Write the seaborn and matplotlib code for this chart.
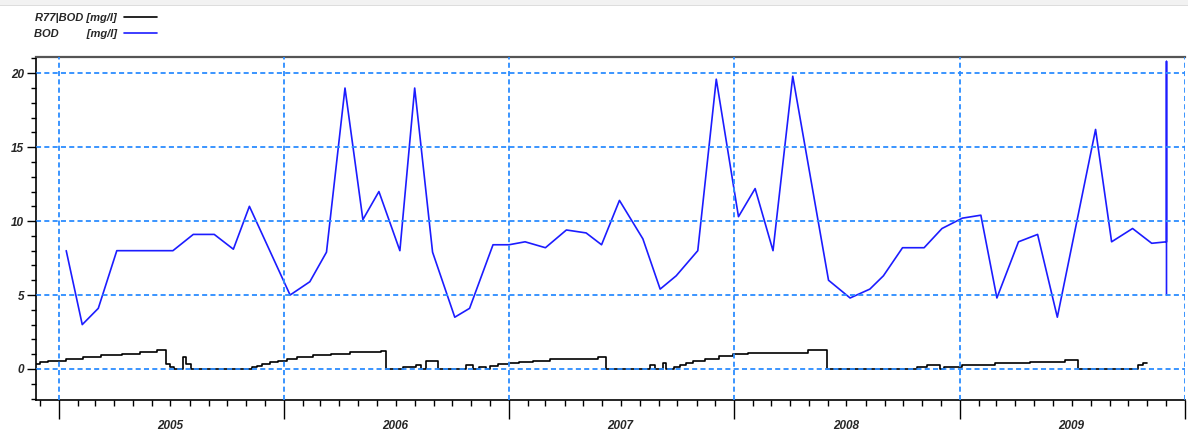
import matplotlib
matplotlib.use("Agg")
import matplotlib.pyplot as plt
import matplotlib.dates as mdates
from matplotlib.ticker import MultipleLocator, FuncFormatter
from matplotlib.patches import Rectangle
import pandas as pd
import seaborn as sns

# --- data -------------------------------------------------------------
bod_dates = [
    "2005-01-13", "2005-02-08", "2005-03-06", "2005-04-05", "2005-07-05",
    "2005-08-07", "2005-09-10", "2005-10-11", "2005-11-06",
    "2006-01-11", "2006-02-12", "2006-03-11", "2006-04-10", "2006-05-09",
    "2006-06-04", "2006-07-08", "2006-08-01", "2006-08-30", "2006-10-05",
    "2006-10-29", "2006-12-06",
    "2007-01-01", "2007-01-27", "2007-03-01", "2007-04-04", "2007-05-06",
    "2007-05-31", "2007-06-29", "2007-08-06", "2007-09-03", "2007-09-29",
    "2007-11-03", "2007-12-03",
    "2008-01-08", "2008-02-04", "2008-03-04", "2008-04-05", "2008-06-02",
    "2008-07-07", "2008-08-08", "2008-08-30", "2008-09-30", "2008-11-04",
    "2008-12-03",
    "2009-01-05", "2009-02-04", "2009-03-02", "2009-04-06", "2009-05-07",
    "2009-06-08", "2009-08-09", "2009-09-04", "2009-10-08", "2009-11-08",
    "2009-12-02", "2009-12-02", "2009-12-02",
]
bod_values = [
    8.0, 3.0, 4.1, 8.0, 8.0, 9.1, 9.1, 8.1, 11.0,
    5.0, 5.9, 7.9, 19.0, 10.1, 12.0, 8.0, 19.0, 7.9, 3.5, 4.1, 8.4,
    8.4, 8.6, 8.2, 9.4, 9.2, 8.4, 11.4, 8.8, 5.4, 6.3, 8.0, 19.6,
    10.3, 12.2, 8.0, 19.8, 6.0, 4.8, 5.4, 6.3, 8.2, 8.2, 9.5,
    10.2, 10.4, 4.8, 8.6, 9.1, 3.5, 16.2, 8.6, 9.5, 8.5, 8.6, 20.8, 5.0,
]

r77_dates = [
    "2004-11-25", "2004-12-01", "2004-12-15",
    "2005-01-12", "2005-02-10", "2005-03-11", "2005-04-13", "2005-05-13",
    "2005-06-09", "2005-06-24", "2005-06-30", "2005-07-06", "2005-07-22",
    "2005-07-27", "2005-08-04", "2005-11-10", "2005-11-18", "2005-11-26",
    "2005-12-09", "2005-12-23",
    "2006-01-06", "2006-01-22", "2006-02-17", "2006-03-19", "2006-04-18",
    "2006-06-08", "2006-06-15", "2006-07-13", "2006-07-23", "2006-08-03",
    "2006-08-12", "2006-08-20", "2006-09-08", "2006-10-24", "2006-11-04",
    "2006-11-14", "2006-11-25", "2006-12-01", "2006-12-14",
    "2007-01-01", "2007-01-17", "2007-02-09", "2007-03-08", "2007-05-26",
    "2007-06-08", "2007-08-17", "2007-08-25", "2007-09-08", "2007-09-13",
    "2007-09-26", "2007-10-05", "2007-10-15", "2007-10-26", "2007-11-14",
    "2007-12-08", "2007-12-30",
    "2008-01-24", "2008-04-30", "2008-05-30", "2008-10-24", "2008-11-09",
    "2008-11-30", "2008-12-07",
    "2009-01-05", "2009-02-27", "2009-04-25", "2009-06-21", "2009-07-11",
    "2009-10-17", "2009-10-25", "2009-10-31",
]
r77_values = [
    0.34, 0.46, 0.57,
    0.69, 0.80, 0.92, 1.03, 1.15, 1.26, 0.34, 0.11, 0.0, 0.80, 0.34, 0.0,
    0.11, 0.23, 0.34, 0.46, 0.57,
    0.69, 0.80, 0.92, 1.03, 1.15, 1.21, 0.0, 0.11, 0.16, 0.28, 0.0, 0.57,
    0.0, 0.28, 0.0, 0.11, 0.0, 0.23, 0.34,
    0.41, 0.46, 0.57, 0.69, 0.80, 0.0, 0.28, 0.0, 0.40, 0.0, 0.11, 0.28,
    0.40, 0.57, 0.69, 0.85, 0.99,
    1.10, 1.26, 0.0, 0.11, 0.28, 0.0, 0.16,
    0.28, 0.39, 0.50, 0.62, 0.0, 0.28, 0.39, 0.39,
]

year_labels = ["2005", "2006", "2007", "2008", "2009"]
legend_labels = ["R77|BOD [mg/l]", "BOD         [mg/l]"]

bod = pd.DataFrame({"date": pd.to_datetime(bod_dates), "value": bod_values})
r77 = pd.DataFrame({"date": pd.to_datetime(r77_dates), "value": r77_values})

# --- style ------------------------------------------------------------
sns.set_theme(style="white")
plt.rcParams["font.family"] = ["Liberation Sans", "DejaVu Sans"]
TXT = "#262626"
GRID = "#2b8cff"

fig = plt.figure(figsize=(11.88, 4.33), dpi=100)
fig.patch.set_facecolor("white")
ax = fig.add_axes([36 / 1188, 33 / 433, 1149 / 1188, 343 / 433])

sns.lineplot(data=r77, x="date", y="value", ax=ax, color="black",
             linewidth=1.2, drawstyle="steps-post",
             estimator=None, sort=False, errorbar=None)
sns.lineplot(data=bod, x="date", y="value", ax=ax, color="#1c1cff",
             linewidth=1.2, estimator=None, sort=False, errorbar=None)

ax.set_xlim(pd.Timestamp("2004-11-25"), pd.Timestamp("2010-01-01"))
ax.set_ylim(-2.1, 21.1)
ax.set_xlabel("")
ax.set_ylabel("")

# y axis
ax.yaxis.set_major_locator(MultipleLocator(5))
ax.yaxis.set_minor_locator(MultipleLocator(1))
ax.tick_params(axis="y", which="major", length=6.5, width=1.0, color="black",
               left=True, pad=2, labelsize=8.5, labelcolor=TXT)
ax.tick_params(axis="y", which="minor", length=3.8, width=1.0, color="black",
               left=True)

# x axis: years as long ticks, months as short ticks, year names mid-year
ax.xaxis.set_major_locator(mdates.YearLocator())
ax.xaxis.set_major_formatter(FuncFormatter(lambda v, p: ""))
ax.xaxis.set_minor_locator(mdates.MonthLocator())


def mid_year_label(v, pos):
    d = mdates.num2date(v)
    name = str(d.year)
    return name if (d.month == 7 and name in year_labels) else ""


ax.xaxis.set_minor_formatter(FuncFormatter(mid_year_label))
ax.tick_params(axis="x", which="major", length=14, width=1.0, color="black",
               bottom=True)
ax.tick_params(axis="x", which="minor", length=4.3, width=1.0, color="black",
               bottom=True, pad=10, labelsize=8.5, labelcolor=TXT)

for lab in ax.get_xticklabels(minor=True) + ax.get_yticklabels():
    lab.set_fontstyle("italic")
    lab.set_fontweight("bold")

# grid on top of the data lines
ax.set_axisbelow(False)
ax.grid(True, which="major", axis="both", color=GRID, linewidth=1.3,
        linestyle=(0, (2.8, 1.8)))
ax.grid(False, which="minor")

# frame
for side in ("left", "bottom"):
    ax.spines[side].set_color("black")
    ax.spines[side].set_linewidth(1.2)
ax.spines["top"].set_color("#555555")
ax.spines["top"].set_linewidth(1.6)
ax.spines["right"].set_visible(False)

# legend above the plot, handles after the text
handles = ax.get_lines()[:2]
leg = fig.legend(handles, legend_labels, loc="upper left",
                 bbox_to_anchor=(34 / 1188, 1 - 13 / 433), frameon=False,
                 markerfirst=False, handlelength=3.0, handletextpad=0.6,
                 labelspacing=0.55, borderpad=0, borderaxespad=0,
                 prop={"family": "Liberation Sans", "style": "italic",
                       "weight": "bold", "size": 8})
for t in leg.get_texts():
    t.set_color(TXT)

# window strip along the top edge
fig.add_artist(Rectangle((0, 1 - 5 / 433), 1, 5 / 433, transform=fig.transFigure,
                         facecolor="#f2f2f2", edgecolor="none"))
fig.add_artist(Rectangle((0, 1 - 6 / 433), 1, 1 / 433, transform=fig.transFigure,
                         facecolor="#dddddd", edgecolor="none"))

fig.savefig("out.png", dpi=100)
